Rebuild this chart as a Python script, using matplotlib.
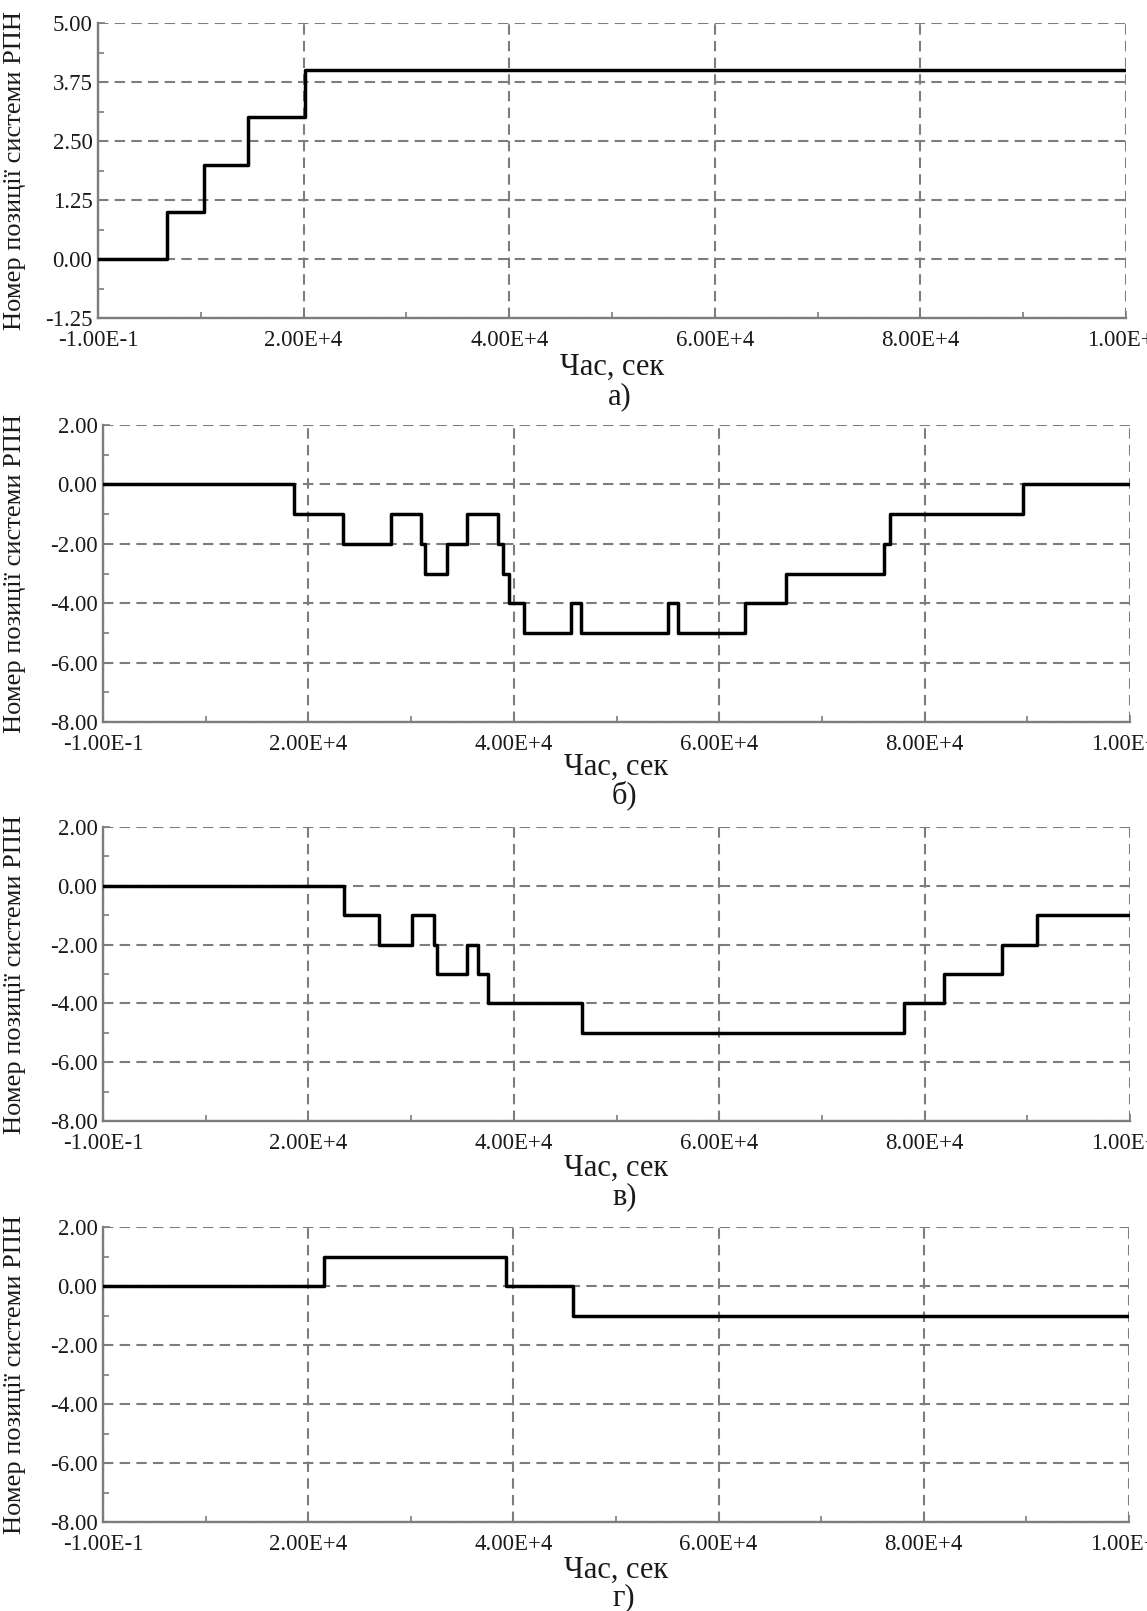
import matplotlib
matplotlib.use('Agg')
import matplotlib.pyplot as plt
from matplotlib.ticker import FixedLocator, MultipleLocator

# Дані: моменти перемикання (сек) та номер позиції РПН після перемикання
t_a = [-0.1, 6.75e3, 1.03e4, 1.458e4, 2.01e4, 1.0e5]
pos_a = [0, 1, 2, 3, 4, 4]

t_b = [-0.1, 1.855e4, 2.335e4, 2.80e4, 3.10e4, 3.14e4, 3.35e4, 3.545e4, 3.85e4, 3.89e4,
       3.95e4, 4.10e4, 4.555e4, 4.655e4, 5.50e4, 5.60e4, 6.255e4, 6.65e4, 7.605e4, 7.66e4,
       8.96e4, 1.0e5]
pos_b = [0, -1, -2, -1, -2, -3, -2, -1, -2, -3,
         -4, -5, -4, -5, -4, -5, -4, -3, -2, -1,
         0, 0]

t_c = [-0.1, 2.35e4, 2.685e4, 3.01e4, 3.22e4, 3.25e4, 3.54e4, 3.655e4, 3.75e4, 4.665e4,
       7.80e4, 8.19e4, 8.75e4, 9.09e4, 1.0e5]
pos_c = [0, -1, -2, -1, -2, -3, -2, -3, -4, -5,
         -4, -3, -2, -1, -1]

t_d = [-0.1, 2.15e4, 3.925e4, 4.577e4, 1.0e5]
pos_d = [0, 1, 0, -1, -1]

x_ticks = [-0.1, 2e4, 4e4, 6e4, 8e4, 1e5]
x_labels = ['-1.00E-1', '2.00E+4', '4.00E+4', '6.00E+4', '8.00E+4', '1.00E+5']

y_ticks_a = [-1.25, 0.0, 1.25, 2.5, 3.75, 5.0]
y_labels_a = ['-1.25', '0.00', '1.25', '2.50', '3.75', '5.00']
y_ticks_b = [-8, -6, -4, -2, 0, 2]
y_labels_b = ['-8.00', '-6.00', '-4.00', '-2.00', '0.00', '2.00']

panel_letters = ['а)', 'б)', 'в)', 'г)']

plt.rcParams['font.family'] = ['Liberation Serif', 'DejaVu Serif']
plt.rcParams['axes.unicode_minus'] = False

W, H = 1147, 1611
fig = plt.figure(figsize=(W / 100, H / 100), dpi=100)

# положення осей в пікселях: ліво, право, верх, низ
boxes = [
    (98, 1126, 23, 318),
    (103, 1130, 425, 722),
    (103, 1130, 827, 1121),
    (103, 1129, 1227, 1522),
]
label_y = [(367, 397), (767, 795), (1168, 1197), (1570, 1598)]

panels = [
    (t_a, pos_a, y_ticks_a, y_labels_a, 0.625),
    (t_b, pos_b, y_ticks_b, y_labels_b, 1.0),
    (t_c, pos_c, y_ticks_b, y_labels_b, 1.0),
    (t_d, pos_d, y_ticks_b, y_labels_b, 1.0),
]

grid_color = '#7d7d7d'
text_color = '#1a1a1a'

for i, (t, p, yt, yl, minor) in enumerate(panels):
    l, r, top, bot = boxes[i]
    ax = fig.add_axes([l / W, 1 - bot / H, (r - l) / W, (bot - top) / H])

    ax.step(t, p, where='post', color='black', lw=2.5, zorder=3)

    ax.set_xlim(-0.1, 1e5)
    ax.set_ylim(yt[0], yt[-1])
    ax.xaxis.set_major_locator(FixedLocator(x_ticks))
    ax.set_xticklabels(x_labels)
    ax.xaxis.set_minor_locator(FixedLocator([1e4, 3e4, 5e4, 7e4, 9e4]))
    ax.yaxis.set_major_locator(FixedLocator(yt))
    ax.set_yticklabels(yl)
    ax.yaxis.set_minor_locator(MultipleLocator(minor))

    ax.grid(True, which='major', color=grid_color, linestyle=(0, (5, 3)), lw=1.5)
    for s in ['top', 'right']:
        ax.spines[s].set_visible(False)
    for s in ['left', 'bottom']:
        ax.spines[s].set_color(grid_color)
        ax.spines[s].set_linewidth(1.7)

    ax.tick_params(which='both', direction='in', color=grid_color, width=1.2)
    ax.tick_params(which='major', length=5, labelsize=16.5, pad=4, labelcolor=text_color)
    ax.tick_params(which='minor', length=4)
    ax.tick_params(axis='x', which='major', pad=8.5)

    ax.set_ylabel('Номер позиції системи РПН', fontsize=19, color=text_color, labelpad=2)
    ax.yaxis.set_label_coords(-(l - 26) / (r - l), 0.5)

    cx = (l + r) / 2 / W
    fig.text(cx, 1 - label_y[i][0] / H, 'Час, сек', fontsize=22, ha='center', va='center',
             color=text_color)
    fig.text(cx + 8 / W, 1 - label_y[i][1] / H, panel_letters[i], fontsize=22, ha='center',
             va='center', color=text_color)

fig.savefig('out.png', dpi=100)
